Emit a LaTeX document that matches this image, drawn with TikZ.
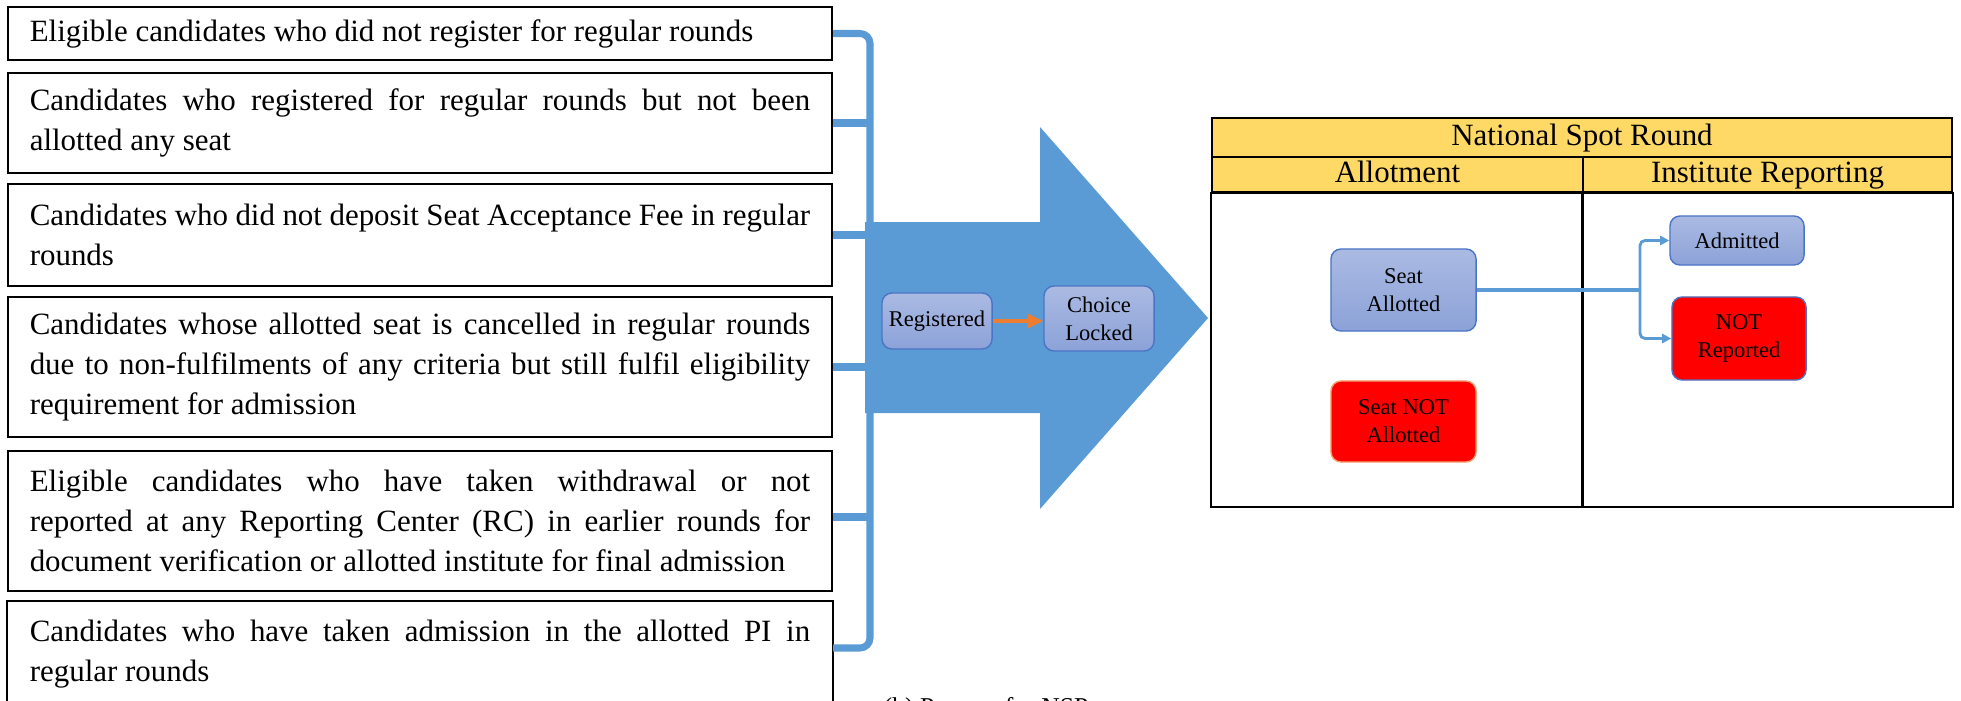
\documentclass[tikz,border=0pt]{standalone}
\usepackage{fontspec}
\setmainfont{Liberation Serif}
\usetikzlibrary{arrows.meta}
\definecolor{flowblue}{HTML}{5B9BD5}
\definecolor{stagetop}{HTML}{AABAE2}
\definecolor{stagebot}{HTML}{8CA2D8}
\definecolor{stageedge}{HTML}{4A74C6}
\definecolor{headyellow}{HTML}{FFD966}
\definecolor{lockorange}{HTML}{ED7D31}
\hyphenpenalty=10000
\exhyphenpenalty=10000
\begin{document}
\begin{tikzpicture}[x=0.01cm,y=-0.01cm,
    crit/.style={draw,line width=0.5pt,text width=7.8cm,inner xsep=0.22cm,
      inner ysep=0pt,align=justify,font=\fontsize{8.8}{11.4}\selectfont},
    stage/.style={draw=stageedge,line width=0.4pt,rounded corners=0.1cm,
      top color=stagetop,bottom color=stagebot,align=center,inner sep=0pt,
      font=\fontsize{6.4}{8}\selectfont},
    nostage/.style={line width=0.4pt,rounded corners=0.1cm,fill=red,
      align=center,inner sep=0pt,font=\fontsize{6.4}{8}\selectfont},
    head/.style={draw,line width=0.6pt,fill=headyellow,inner sep=0pt,
      text height=0.68em,text depth=0.22em,font=\fontsize{8.8}{10}\selectfont}]
  \useasboundingbox (0,0) rectangle (1961,700);
  % criteria on the left
  \node[crit,minimum height=0.53cm] (b1) at (420,33.5)
    {Eligible candidates who did not register for regular rounds};
  \node[crit,minimum height=1.00cm] (b2) at (420,123)
    {Candidates who registered for regular rounds but not been\linebreak
     allotted any seat};
  \node[crit,minimum height=1.02cm] (b3) at (420,235)
    {Candidates who did not deposit Seat Acceptance Fee in regular\linebreak
     rounds};
  \node[crit,minimum height=1.40cm] (b4) at (420,367)
    {Candidates whose allotted seat is cancelled in regular rounds\linebreak
     due to non-fulfilments of any criteria but still fulfil eligibility\linebreak
     requirement for admission};
  \node[crit,minimum height=1.40cm] (b5) at (420,521)
    {Eligible candidates who have taken withdrawal or not\linebreak
     reported at any Reporting Center (RC) in earlier rounds for\linebreak
     document verification or allotted institute for final admission};
  \node[crit,draw=none,anchor=north,inner ysep=0.18cm] (b6) at (420,601)
    {Candidates who have taken admission in the allotted PI in\linebreak
     regular rounds};
  \draw[line width=0.5pt] (b6.north west) rectangle ([yshift=-0.5cm]b6.south east);
  % big arrow
  \fill[flowblue] (865,222) -- (1040,222) -- (1040,127) -- (1208,318)
    -- (1040,509) -- (1040,413) -- (865,413) -- cycle;
  % bracket
  \coordinate (brtop) at (870,33.5);
  \coordinate (brbot) at (870,648);
  \begin{scope}[flowblue,line width=2pt]
    \draw[rounded corners=0.1cm] (b1.east) -- (brtop) -- (brbot) -- (brbot -| b1.east);
    \draw (b2.east) -- (b2.east -| brtop);
    \draw (b3.east) -- (b3.east -| brtop);
    \draw (b4.east) -- (b4.east -| brtop);
    \draw (b5.east |- 0,517) -- (brtop |- 0,517);
  \end{scope}
  % registration steps
  \node[stage,minimum width=1.10cm,minimum height=0.56cm] (reg) at (937,321) {Registered};
  \node[stage,minimum width=1.10cm,minimum height=0.65cm] (lock) at (1099,318.5) {Choice\\Locked};
  \draw[lockorange,line width=1.1pt,-{Triangle[length=4.3pt,width=3.8pt]}]
    (reg.east) -- (reg.east -| lock.west);
  % national spot round table
  \node[head,minimum width=7.40cm,minimum height=0.39cm] (nsr) at (1582,137.5) {National Spot Round};
  \node[head,minimum width=3.71cm,minimum height=0.35cm] (allot) at (1397.5,174.5) {Allotment};
  \node[head,minimum width=3.69cm,minimum height=0.35cm] (inst) at (1767.5,174.5) {Institute Reporting};
  \draw[line width=0.6pt] (allot.south west) rectangle (1583,507);
  \draw[line width=0.6pt] (inst.south west) rectangle (inst.south east |- 0,507);
  \node[stage,minimum width=1.45cm,minimum height=0.82cm] (sa) at (1403.5,290) {Seat\\Allotted};
  \node[nostage,draw=lockorange!70,minimum width=1.45cm,minimum height=0.81cm] (sna) at (1403.5,421.5) {Seat NOT\\Allotted};
  \node[stage,minimum width=1.34cm,minimum height=0.49cm] (adm) at (1737,240.5) {Admitted};
  \node[nostage,draw=stageedge,minimum width=1.34cm,minimum height=0.83cm] (nr) at (1739,338.5) {NOT\\Reported};
  \draw[flowblue,line width=1.1pt] (sa.east) -- (1640,290) coordinate (fork);
  \begin{scope}[flowblue,line width=0.8pt,rounded corners=0.05cm,
      -{Triangle[length=2.6pt,width=2.6pt]}]
    \draw (fork) |- (adm.west);
    \draw (fork) |- (nr.west);
  \end{scope}
  % caption, cut by the page edge
  \node[anchor=base west,inner sep=0pt,font=\fontsize{7.3}{9}\selectfont] (cap) at (883,715)
    {(b) Process for NSP};
\end{tikzpicture}
\end{document}
